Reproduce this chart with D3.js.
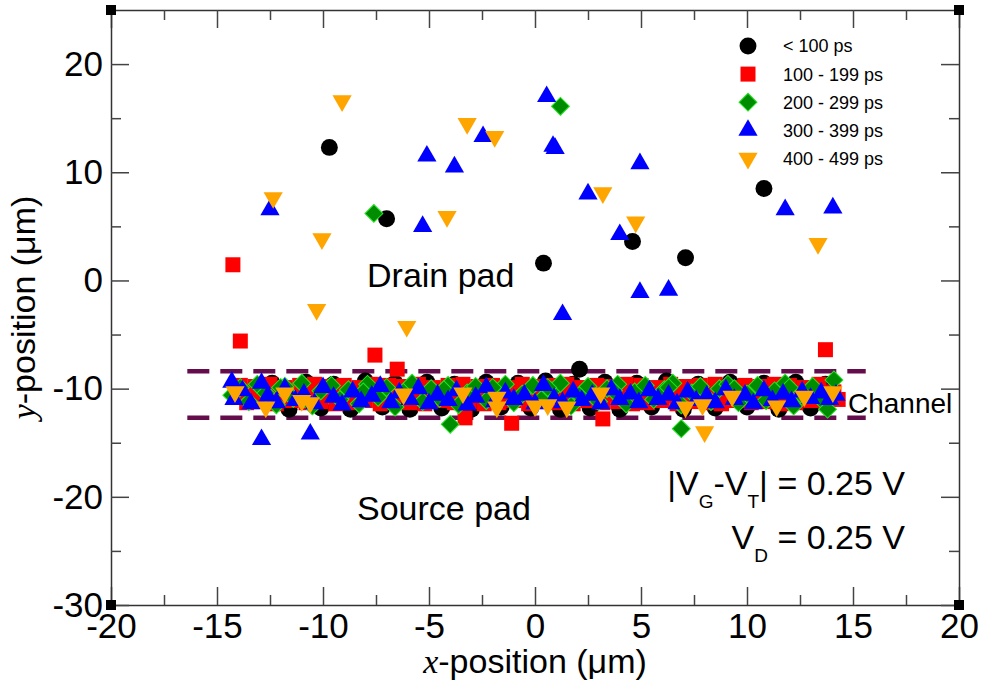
<!DOCTYPE html>
<html>
<head>
<meta charset="utf-8">
<script src="https://cdn.jsdelivr.net/npm/d3@7"></script>
<style>
  body { margin: 0; background: #fff; }
  text { font-family: "Liberation Sans", Arial, Helvetica, sans-serif; fill: #000; }
</style>
</head>
<body>
<svg id="chart" width="982" height="683"></svg>
<script>
// ---- data (x, y in micrometres) ----
var seriesNames = ['< 100 ps', '100 - 199 ps', '200 - 299 ps', '300 - 399 ps', '400 - 499 ps'];
var xTicks = [-20, -15, -10, -5, 0, 5, 10, 15, 20];
var yTicks = [-30, -20, -10, 0, 10, 20];
var channelEdges = [-8.4, -12.7];
var channelExtent = [-16.4, 15.6];

var blackPts = [
  [-9.7, 12.3], [-7.0, 5.7], [0.4, 1.6], [4.6, 3.6], [7.1, 2.1], [10.8, 8.5], [2.1, -8.2],
  [-13.2, -10.8], [-12.4, -9.5], [-11.6, -11.9], [-10.8, -9.4], [-10.1, -11.8], [-9.5, -9.6],
  [-8.7, -11.9], [-8.0, -9.3], [-7.2, -11.7], [-6.6, -9.5], [-5.9, -11.9], [-5.1, -9.4],
  [-4.4, -11.8], [-3.8, -9.6], [-3.0, -11.9], [-2.3, -9.4], [-1.6, -11.7], [-0.8, -9.5],
  [-0.2, -11.8], [0.5, -9.3], [1.2, -11.9], [1.8, -9.6], [2.6, -11.8], [3.3, -9.4],
  [4.0, -11.9], [4.8, -9.5], [5.5, -11.7], [6.2, -9.3], [7.0, -11.9], [7.7, -9.6],
  [8.5, -11.8], [9.2, -9.4], [10.0, -11.7], [10.8, -9.5], [11.5, -11.9], [12.3, -9.4],
  [13.0, -11.8], [13.7, -9.6]
];

var redPts = [
  [-14.25, 1.45], [-13.9, -5.6], [-7.55, -6.9], [-6.5, -8.2], [13.7, -6.4],
  [-1.1, -13.2], [-3.3, -12.7], [3.2, -12.8],
  [-13.9, -9.7], [-13.2, -9.8], [-12.5, -9.6], [-11.8, -9.9], [-11.1, -9.7], [-10.4, -9.6],
  [-9.7, -9.8], [-9.0, -9.7], [-8.3, -9.9], [-7.6, -9.6], [-6.9, -9.7], [-6.2, -9.8],
  [-5.5, -9.6], [-4.8, -9.9], [-4.1, -9.7], [-3.4, -9.6], [-2.7, -9.8], [-2.0, -9.7],
  [-1.3, -9.9], [-0.6, -9.6], [0.1, -9.8], [0.8, -9.7], [1.5, -9.6], [2.2, -9.9],
  [2.9, -9.7], [3.6, -9.8], [4.3, -9.6], [5.0, -9.7], [5.7, -9.9], [6.4, -9.6],
  [7.1, -9.8], [7.8, -9.7], [8.5, -9.6], [9.2, -9.9], [9.9, -9.7], [10.6, -9.8],
  [11.3, -9.6], [12.0, -9.7], [12.7, -9.9], [13.4, -9.6], [14.1, -10.3],
  [-13.5, -10.5], [-12.8, -10.6], [-12.1, -10.4], [-11.4, -10.5], [-10.7, -10.6], [-10.0, -10.4],
  [-9.3, -10.5], [-8.6, -10.6], [-7.9, -10.4], [-7.2, -10.5], [-6.5, -10.6], [-5.8, -10.4],
  [-5.1, -10.5], [-4.4, -10.6], [-3.7, -10.4], [-3.0, -10.5], [-2.3, -10.6], [-1.6, -10.4],
  [-0.9, -10.5], [-0.2, -10.6], [0.5, -10.4], [1.2, -10.5], [1.9, -10.6], [2.6, -10.4],
  [3.3, -10.5], [4.0, -10.6], [4.7, -10.4], [5.4, -10.5], [6.1, -10.6], [6.8, -10.4],
  [7.5, -10.5], [8.2, -10.6], [8.9, -10.4], [9.6, -10.5], [10.3, -10.6], [11.0, -10.4],
  [11.7, -10.5], [12.4, -10.6], [13.1, -10.4], [13.8, -10.5],
  [-13.6, -11.3], [-12.9, -11.2], [-12.2, -11.4], [-11.5, -11.1], [-10.8, -11.3], [-10.1, -11.2],
  [-9.4, -11.4], [-8.7, -11.3], [-8.0, -11.1], [-7.3, -11.4], [-6.6, -11.2], [-5.9, -11.3],
  [-5.2, -11.4], [-4.5, -11.1], [-3.8, -11.3], [-3.1, -11.2], [-2.4, -11.4], [-1.7, -11.3],
  [-1.0, -11.1], [-0.3, -11.4], [0.4, -11.2], [1.1, -11.3], [1.8, -11.4], [2.5, -11.1],
  [3.2, -11.3], [3.9, -11.2], [4.6, -11.4], [5.3, -11.3], [6.0, -11.1], [6.7, -11.4],
  [7.4, -11.2], [8.1, -11.3], [8.8, -11.4], [9.5, -11.1], [10.2, -11.3], [10.9, -11.2],
  [11.6, -11.4], [12.3, -11.3], [13.0, -11.1], [13.7, -11.2], [14.3, -11.0]
];

var greenPts = [
  [1.2, 16.1], [-7.6, 6.2], [-4.0, -13.3], [6.9, -13.7],
  [-14.3, -10.6], [-13.9, -9.9], [-13.5, -11.2], [-13.1, -9.6], [-12.7, -10.4], [-12.2, -11.5],
  [-11.8, -9.8], [-11.4, -10.9], [-11.0, -9.5], [-10.5, -11.6], [-10.1, -10.2], [-9.6, -9.7],
  [-9.2, -11.0], [-8.8, -10.1], [-8.3, -11.4], [-7.9, -9.6], [-7.4, -10.8], [-7.0, -9.9],
  [-6.6, -11.7], [-6.2, -10.3], [-5.8, -9.5], [-5.3, -11.2], [-4.9, -10.0], [-4.5, -10.9],
  [-4.1, -9.7], [-3.6, -11.5], [-3.2, -10.4], [-2.8, -9.8], [-2.3, -11.1], [-1.9, -10.1],
  [-1.4, -9.6], [-1.0, -11.3], [-0.6, -10.5], [-0.1, -9.7], [0.3, -11.0], [0.8, -10.2],
  [1.2, -9.5], [1.7, -11.6], [2.1, -10.6], [2.5, -9.8], [3.0, -11.2], [3.4, -10.0],
  [3.9, -9.6], [4.3, -11.4], [4.7, -10.3], [5.2, -9.7], [5.6, -11.0], [6.1, -10.1],
  [6.5, -9.5], [6.9, -11.5], [7.4, -10.4], [7.8, -9.8], [8.3, -11.2], [8.7, -10.0],
  [9.1, -9.6], [9.6, -11.3], [10.0, -10.5], [10.5, -9.7], [10.9, -11.1], [11.3, -10.2],
  [11.8, -9.5], [12.2, -11.6], [12.6, -10.6], [13.1, -9.8], [13.5, -11.0], [13.8, -11.9],
  [14.1, -9.2], [-12.0, -9.9], [-8.1, -10.3], [-4.3, -10.1], [-2.0, -9.9], [0.6, -9.9],
  [3.7, -10.2], [6.3, -9.9], [9.4, -10.0], [12.0, -9.9]
];

var bluePts = [
  [0.55, 17.0], [0.85, 12.4], [0.95, 12.2], [-2.45, 13.3], [-5.1, 11.5], [-3.8, 10.5],
  [-12.5, 6.55], [-5.3, 5.0], [1.3, -3.15], [4.95, 10.8], [2.5, 8.0], [4.0, 4.25],
  [4.95, -1.1], [6.3, -0.9], [11.8, 6.55], [14.05, 6.7], [-12.9, -14.7], [-10.6, -14.2],
  [-14.3, -9.4], [-14.2, -11.0], [-13.8, -10.2], [-13.4, -11.4], [-12.9, -9.5], [-12.6, -10.7],
  [-12.2, -11.3], [-11.8, -10.0], [-11.3, -11.1], [-10.9, -10.5], [-10.4, -11.4], [-10.0, -9.9],
  [-9.5, -10.8], [-9.1, -11.5], [-8.6, -10.3], [-8.2, -11.2], [-7.7, -10.7], [-7.3, -9.8],
  [-6.8, -11.3], [-6.4, -10.4], [-5.9, -11.0], [-5.5, -10.0], [-5.0, -11.4], [-4.6, -10.6],
  [-4.1, -11.1], [-3.7, -10.2], [-3.2, -11.5], [-2.8, -10.8], [-2.3, -9.9], [-1.9, -11.2],
  [-1.4, -10.4], [-1.0, -11.0], [-0.5, -10.6], [0.0, -11.4], [0.4, -9.7], [0.9, -10.9],
  [1.3, -11.3], [1.8, -10.3], [2.2, -11.1], [2.7, -10.6], [3.1, -11.4], [3.6, -10.1],
  [4.0, -11.0], [4.5, -10.5], [4.9, -11.3], [5.4, -10.2], [5.8, -11.0], [6.3, -10.6],
  [6.7, -11.4], [7.2, -10.3], [7.6, -11.1], [8.1, -10.7], [8.5, -11.3], [9.0, -10.1],
  [9.4, -11.0], [9.9, -10.6], [10.3, -11.4], [10.8, -10.2], [11.2, -11.1], [11.7, -10.5],
  [12.1, -11.2], [12.6, -10.3], [13.0, -10.9], [13.5, -10.4], [13.9, -11.0], [14.2, -10.6]
];

var orangePts = [
  [-9.1, 16.6], [-3.2, 14.5], [-1.9, 13.3], [-12.35, 7.65], [-4.15, 5.9], [-10.05, 3.85],
  [-10.3, -2.7], [-6.05, -4.25], [3.2, 8.1], [4.75, 5.4], [13.35, 3.4], [8.0, -14.0],
  [-14.15, -10.3], [-12.7, -11.7], [-11.8, -10.4], [-11.0, -11.1], [-10.6, -11.3], [-6.2, -10.5],
  [-3.4, -10.4], [-1.8, -10.8], [-1.8, -11.7], [0.0, -11.6], [0.6, -11.5], [1.5, -11.7],
  [3.1, -10.4], [7.1, -11.7], [7.9, -11.5], [9.3, -10.7], [11.4, -11.6], [12.7, -10.7],
  [14.05, -10.3]
];

var allSeries = [blackPts, redPts, greenPts, bluePts, orangePts];

// ---- chart ----
var svg = d3.select('#chart');
var x = d3.scaleLinear().domain([-20, 20]).range([111, 959]);
var y = d3.scaleLinear().domain([-30, 25]).range([605, 10]);

var styles = [
  { shape: d3.symbolCircle, size: 225, fill: '#000', stroke: 'none', rot: 0 },
  { shape: d3.symbolSquare, size: 225, fill: '#ff0000', stroke: 'none', rot: 0 },
  { shape: d3.symbolSquare, size: 160, fill: '#008c00', stroke: '#22e622', rot: 45 },
  { shape: d3.symbolTriangle, size: 160, fill: '#0000ff', stroke: 'none', rot: 0 },
  { shape: d3.symbolTriangle, size: 160, fill: '#ffa500', stroke: 'none', rot: 180 }
];

// channel boundaries
svg.append('g')
  .selectAll('line')
  .data(channelEdges)
  .enter()
    .append('line')
    .attr('x1', x(channelExtent[0]))
    .attr('x2', x(channelExtent[1]))
    .attr('y1', d => y(d))
    .attr('y2', d => y(d))
    .style('stroke', '#640c4c')
    .style('stroke-width', 4.5)
    .style('stroke-dasharray', '22 11');

// points, drawn series by series
allSeries.forEach((pts, i) => {
  var s = styles[i];
  svg.append('g')
    .selectAll('path')
    .data(pts)
    .enter()
      .append('path')
      .attr('d', d3.symbol().type(s.shape).size(s.size))
      .attr('transform', d => 'translate(' + x(d[0]) + ',' + y(d[1]) + ') rotate(' + s.rot + ')')
      .style('fill', s.fill)
      .style('stroke', s.stroke)
      .style('stroke-width', 1);
});

// axes, ticks pointing inward on all four sides
var majX = xTicks, minX = d3.range(-17.5, 20, 5);
var majY = yTicks, minY = d3.range(-25, 25, 10);
var fmt = d => String(d);

function addAxis(axisFn, scale, major, minor, tr, labels) {
  var g = svg.append('g').attr('transform', tr);
  g.call(axisFn(scale).tickValues(major).tickSize(-18).tickSizeOuter(0)
    .tickPadding(8).tickFormat(labels ? fmt : ''));
  var m = svg.append('g').attr('transform', tr);
  m.call(axisFn(scale).tickValues(minor).tickSize(-10).tickSizeOuter(0).tickFormat(''));
  m.select('.domain').remove();
  [g, m].forEach(a => {
    a.selectAll('line').style('stroke', '#444').style('stroke-width', 1.5);
    a.selectAll('.domain').style('stroke', '#333').style('stroke-width', 1.5);
    a.selectAll('text').style('font-size', '35px').style('font-family', '"Liberation Sans", Arial, sans-serif').style('fill', '#000');
  });
}
addAxis(d3.axisBottom, x, majX, minX, 'translate(0,605)', true);
addAxis(d3.axisTop, x, majX, minX, 'translate(0,10)', false);
addAxis(d3.axisLeft, y, majY, minY, 'translate(111,0)', true);
addAxis(d3.axisRight, y, majY, minY, 'translate(959,0)', false);

// corner markers
svg.append('g')
  .selectAll('rect')
  .data([[-20, 25], [20, 25], [-20, -30], [20, -30]])
  .enter()
    .append('rect')
    .attr('x', d => x(d[0]) - 5)
    .attr('y', d => y(d[1]) - 5)
    .attr('width', 10)
    .attr('height', 10)
    .style('fill', '#000');

// axis titles
var xt = svg.append('text')
  .attr('x', (x.range()[0] + x.range()[1]) / 2)
  .attr('y', 673)
  .attr('text-anchor', 'middle')
  .style('font-size', '34px');
xt.append('tspan').style('font-family', '"Liberation Serif", "Times New Roman", serif').style('font-style', 'italic').text('x');
xt.append('tspan').text('-position (μm)');

var yt = svg.append('text')
  .attr('transform', 'translate(35,' + (y.range()[0] + y.range()[1]) / 2 + ') rotate(-90)')
  .attr('text-anchor', 'middle')
  .style('font-size', '34px');
yt.append('tspan').style('font-family', '"Liberation Serif", "Times New Roman", serif').style('font-style', 'italic').text('y');
yt.append('tspan').text('-position (μm)');

// legend
var legend = svg.append('g');
seriesNames.forEach((name, i) => {
  var s = styles[i];
  var cy = 46 + i * 28.1;
  legend.append('path')
    .attr('d', d3.symbol().type(s.shape).size(s.size))
    .attr('transform', 'translate(748,' + cy + ') rotate(' + s.rot + ')')
    .style('fill', s.fill)
    .style('stroke', s.stroke);
  legend.append('text')
    .attr('x', 783)
    .attr('y', cy)
    .attr('dy', '0.36em')
    .style('font-size', '18px')
    .text(name);
});

// annotations
svg.append('text').attr('x', 367).attr('y', 287).style('font-size', '34px').text('Drain pad');
svg.append('text').attr('x', 357).attr('y', 520).style('font-size', '34px').text('Source pad');
svg.append('text').attr('x', 848).attr('y', 413).style('font-size', '28px').text('Channel');

var v1 = svg.append('text').attr('x', 905).attr('y', 495).attr('text-anchor', 'end').style('font-size', '34px');
v1.append('tspan').text('|V');
v1.append('tspan').attr('dy', 13).style('font-size', '19px').text('G');
v1.append('tspan').attr('dy', -13).text('-V');
v1.append('tspan').attr('dy', 13).style('font-size', '19px').text('T');
v1.append('tspan').attr('dy', -13).text('| = 0.25 V');

var v2 = svg.append('text').attr('x', 905).attr('y', 549).attr('text-anchor', 'end').style('font-size', '34px');
v2.append('tspan').text('V');
v2.append('tspan').attr('dy', 13).style('font-size', '19px').text('D');
v2.append('tspan').attr('dy', -13).text(' = 0.25 V');
</script>
</body>
</html>
